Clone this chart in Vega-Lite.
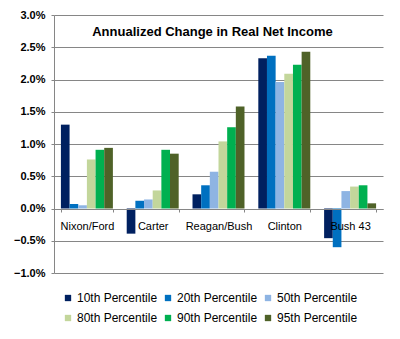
{
  "$schema": "https://vega.github.io/schema/vega-lite/v6.json",
  "width": 329,
  "height": 258,
  "autosize": "none",
  "padding": {"left": 54, "top": 15, "right": 17, "bottom": 66},
  "background": "white",
  "title": {
    "text": "Annualized Change in Real Net Income",
    "font": "Liberation Sans",
    "fontSize": 13,
    "fontWeight": "bold",
    "color": "#000000",
    "anchor": "middle",
    "frame": "group",
    "baseline": "top",
    "offset": 0,
    "dy": 30,
    "dx": -6
  },
  "data": {
    "values": [
      {"period": "Nixon/Ford", "pct": "10th Percentile", "v": 0.0130},
      {"period": "Nixon/Ford", "pct": "20th Percentile", "v": 0.0007},
      {"period": "Nixon/Ford", "pct": "50th Percentile", "v": 0.0005},
      {"period": "Nixon/Ford", "pct": "80th Percentile", "v": 0.0076},
      {"period": "Nixon/Ford", "pct": "90th Percentile", "v": 0.0091},
      {"period": "Nixon/Ford", "pct": "95th Percentile", "v": 0.0094},
      {"period": "Carter", "pct": "10th Percentile", "v": -0.0039},
      {"period": "Carter", "pct": "20th Percentile", "v": 0.0012},
      {"period": "Carter", "pct": "50th Percentile", "v": 0.0014},
      {"period": "Carter", "pct": "80th Percentile", "v": 0.0028},
      {"period": "Carter", "pct": "90th Percentile", "v": 0.0091},
      {"period": "Carter", "pct": "95th Percentile", "v": 0.0085},
      {"period": "Reagan/Bush", "pct": "10th Percentile", "v": 0.0022},
      {"period": "Reagan/Bush", "pct": "20th Percentile", "v": 0.0036},
      {"period": "Reagan/Bush", "pct": "50th Percentile", "v": 0.0057},
      {"period": "Reagan/Bush", "pct": "80th Percentile", "v": 0.0104},
      {"period": "Reagan/Bush", "pct": "90th Percentile", "v": 0.0126},
      {"period": "Reagan/Bush", "pct": "95th Percentile", "v": 0.0158},
      {"period": "Clinton", "pct": "10th Percentile", "v": 0.0233},
      {"period": "Clinton", "pct": "20th Percentile", "v": 0.0237},
      {"period": "Clinton", "pct": "50th Percentile", "v": 0.0196},
      {"period": "Clinton", "pct": "80th Percentile", "v": 0.0209},
      {"period": "Clinton", "pct": "90th Percentile", "v": 0.0223},
      {"period": "Clinton", "pct": "95th Percentile", "v": 0.0243},
      {"period": "Bush 43", "pct": "10th Percentile", "v": -0.0046},
      {"period": "Bush 43", "pct": "20th Percentile", "v": -0.0060},
      {"period": "Bush 43", "pct": "50th Percentile", "v": 0.0027},
      {"period": "Bush 43", "pct": "80th Percentile", "v": 0.0034},
      {"period": "Bush 43", "pct": "90th Percentile", "v": 0.0036},
      {"period": "Bush 43", "pct": "95th Percentile", "v": 0.0008}
    ]
  },
  "mark": {"type": "bar", "orient": "vertical"},
  "encoding": {
    "x": {
      "field": "period",
      "type": "nominal",
      "sort": ["Nixon/Ford", "Carter", "Reagan/Bush", "Clinton", "Bush 43"],
      "scale": {"paddingInner": 0.21, "paddingOuter": 0.105},
      "axis": {
        "title": null,
        "orient": "bottom",
        "offset": -64,
        "zindex": 1,
        "labelAngle": 0,
        "domainColor": "#868686",
        "tickColor": "#868686",
        "tickSize": 3,
        "tickBand": "extent",
        "labelPadding": 8,
        "labelFont": "Liberation Sans",
        "labelFontSize": 11,
        "labelColor": "#000000",
        "labelOverlap": false,
        "grid": false
      }
    },
    "xOffset": {
      "field": "pct",
      "type": "nominal",
      "sort": ["10th Percentile", "20th Percentile", "50th Percentile", "80th Percentile", "90th Percentile", "95th Percentile"],
      "scale": {"paddingInner": 0, "paddingOuter": 0}
    },
    "y": {
      "field": "v",
      "type": "quantitative",
      "scale": {"domain": [-0.01, 0.03], "nice": false},
      "axis": {
        "title": null,
        "values": [-0.01, -0.005, 0, 0.005, 0.01, 0.015, 0.02, 0.025, 0.03],
        "format": ".1%",
        "labelFont": "Liberation Sans",
        "labelFontSize": 11,
        "labelFontWeight": "bold",
        "labelColor": "#000000",
        "labelPadding": 6,
        "tickSize": 3,
        "tickColor": "#868686",
        "domainColor": "#868686",
        "gridColor": "#868686",
        "grid": true
      }
    },
    "color": {
      "field": "pct",
      "type": "nominal",
      "scale": {
        "domain": ["10th Percentile", "20th Percentile", "50th Percentile", "80th Percentile", "90th Percentile", "95th Percentile"],
        "range": ["#002060", "#0070C0", "#8EB4E3", "#C3D69B", "#00B050", "#4F6228"]
      },
      "legend": {
        "title": null,
        "orient": "none",
        "direction": "horizontal",
        "legendX": 8,
        "legendY": 277,
        "columns": 3,
        "symbolType": "square",
        "symbolSize": 40,
        "symbolStrokeWidth": 0,
        "labelFont": "Liberation Sans",
        "labelFontSize": 12,
        "labelColor": "#000000",
        "labelOffset": 3,
        "columnPadding": 4,
        "rowPadding": 8,
        "padding": 0
      }
    }
  },
  "config": {
    "view": {"stroke": null},
    "axis": {"gridWidth": 1}
  }
}
